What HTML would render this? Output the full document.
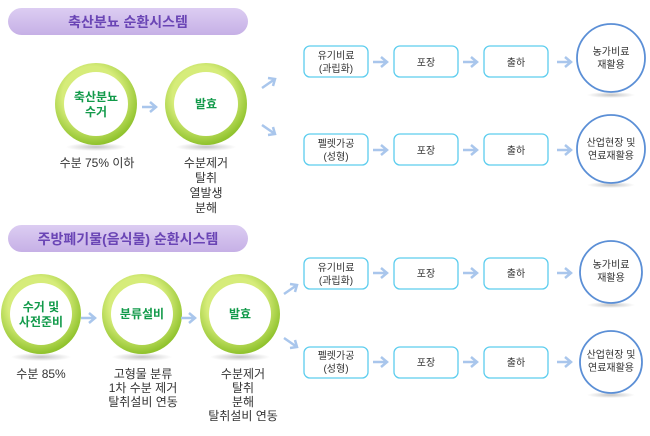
<!DOCTYPE html>
<html><head><meta charset="utf-8"><style>
html,body{margin:0;padding:0;background:#fff;}
text{font-family:"Liberation Sans","Noto Sans CJK KR",sans-serif;}
</style></head><body>
<svg width="650" height="431" viewBox="0 0 650 431" xmlns="http://www.w3.org/2000/svg">
<defs>
<linearGradient id="pill" x1="0" y1="0" x2="0" y2="1">
<stop offset="0" stop-color="#dccdf2"/><stop offset="1" stop-color="#c6b0e6"/></linearGradient>
<radialGradient id="ring" cx="0.45" cy="0.4" r="0.6">
<stop offset="0.6" stop-color="#d6ec7a"/><stop offset="1" stop-color="#8fc22c"/></radialGradient>
<radialGradient id="sh" cx="0.5" cy="0.5" r="0.5">
<stop offset="0" stop-color="#888" stop-opacity="0.5"/><stop offset="1" stop-color="#888" stop-opacity="0"/></radialGradient>
<g id="arr"><path d="M0 0 H14 M8 -5 L14 0 L8 5" fill="none" stroke="#a9c6ec" stroke-width="2.5"/></g>
</defs>
<g font-size="12" fill="#333" text-anchor="middle">
<!-- titles -->
<rect x="8" y="8" width="240" height="27" rx="13.5" fill="url(#pill)"/>
<text x="128" y="27" font-size="14" font-weight="bold" fill="#6a45b5">축산분뇨 순환시스템</text>
<rect x="8" y="225" width="240" height="27" rx="13.5" fill="url(#pill)"/>
<text x="128" y="244" font-size="14" font-weight="bold" fill="#6a45b5">주방폐기물(음식물) 순환시스템</text>

<!-- green circles -->
<g id="gc">
</g>
<ellipse cx="96" cy="147" rx="30" ry="4" fill="url(#sh)"/>
<circle cx="96" cy="104" r="41" fill="url(#ring)"/><circle cx="96" cy="104" r="32" fill="#fff"/>
<ellipse cx="206" cy="147" rx="30" ry="4" fill="url(#sh)"/>
<circle cx="206" cy="104" r="41" fill="url(#ring)"/><circle cx="206" cy="104" r="32" fill="#fff"/>
<ellipse cx="41" cy="357" rx="30" ry="4" fill="url(#sh)"/>
<circle cx="41" cy="314" r="40" fill="url(#ring)"/><circle cx="41" cy="314" r="31" fill="#fff"/>
<ellipse cx="142" cy="357" rx="30" ry="4" fill="url(#sh)"/>
<circle cx="142" cy="314" r="40" fill="url(#ring)"/><circle cx="142" cy="314" r="31" fill="#fff"/>
<ellipse cx="240" cy="357" rx="30" ry="4" fill="url(#sh)"/>
<circle cx="240" cy="314" r="40" fill="url(#ring)"/><circle cx="240" cy="314" r="31" fill="#fff"/>

<g font-weight="bold" fill="#129a4a" font-size="12">
<text x="96" y="101">축산분뇨</text><text x="96" y="116">수거</text>
<text x="206" y="108">발효</text>
<text x="41" y="311">수거 및</text><text x="41" y="326">사전준비</text>
<text x="142" y="318">분류설비</text>
<text x="240" y="318">발효</text>
</g>

<use href="#arr" x="142" y="107"/>
<use href="#arr" x="81" y="318"/>
<use href="#arr" x="181" y="318"/>

<text x="97" y="167">수분 75% 이하</text>
<text x="206" y="167">수분제거</text><text x="206" y="182">탈취</text><text x="206" y="197">열발생</text><text x="206" y="212">분해</text>
<text x="41" y="378">수분 85%</text>
<text x="143" y="378">고형물 분류</text><text x="143" y="392">1차 수분 제거</text><text x="143" y="406">탈취설비 연동</text>
<text x="243" y="378">수분제거</text><text x="243" y="392">탈취</text><text x="243" y="406">분해</text><text x="243" y="420">탈취설비 연동</text>

<!-- diagonal arrows -->
<g fill="none" stroke="#a9c6ec" stroke-width="2.5">
<path d="M262 88 L275 79 M268 78 L275 79 L273 86"/>
<path d="M262 125 L275 134 M273 127 L275 134 L268 135"/>
<path d="M284 294 L297 285 M290 284 L297 285 L295 292"/>
<path d="M284 338 L297 347 M295 340 L297 347 L290 348"/>
</g>

<!-- right rows -->
<g fill="#fff" stroke="#5ccdee" stroke-width="1.3">
<rect x="304" y="46" width="64" height="31" rx="6"/><rect x="394" y="46" width="64" height="31" rx="6"/><rect x="484" y="46" width="64" height="31" rx="6"/>
<rect x="304" y="134" width="64" height="31" rx="6"/><rect x="394" y="134" width="64" height="31" rx="6"/><rect x="484" y="134" width="64" height="31" rx="6"/>
<rect x="304" y="258" width="64" height="31" rx="6"/><rect x="394" y="258" width="64" height="31" rx="6"/><rect x="484" y="258" width="64" height="31" rx="6"/>
<rect x="304" y="347" width="64" height="31" rx="6"/><rect x="394" y="347" width="64" height="31" rx="6"/><rect x="484" y="347" width="64" height="31" rx="6"/>
</g>
<g>
<ellipse cx="611" cy="95" rx="24" ry="3" fill="url(#sh)"/>
<ellipse cx="611" cy="185" rx="24" ry="3" fill="url(#sh)"/>
<ellipse cx="611" cy="305" rx="24" ry="3" fill="url(#sh)"/>
<ellipse cx="611" cy="395" rx="24" ry="3" fill="url(#sh)"/>
</g>
<g fill="#fff" stroke="#5b8fd6" stroke-width="1.8">
<circle cx="611" cy="58" r="34"/><circle cx="611" cy="149" r="34"/>
<circle cx="611" cy="272" r="31"/><circle cx="611" cy="362" r="31"/>
</g>
<g>
<use href="#arr" x="373" y="62"/><use href="#arr" x="463" y="62"/><use href="#arr" x="557" y="62"/>
<use href="#arr" x="373" y="150"/><use href="#arr" x="463" y="150"/><use href="#arr" x="557" y="150"/>
<use href="#arr" x="373" y="273"/><use href="#arr" x="463" y="273"/><use href="#arr" x="557" y="273"/>
<use href="#arr" x="373" y="362"/><use href="#arr" x="463" y="362"/><use href="#arr" x="557" y="362"/>
</g>
<g font-size="10" fill="#333">
<text x="336" y="59">유기비료</text><text x="336" y="72">(과립화)</text>
<text x="426" y="66">포장</text><text x="516" y="66">출하</text>
<text x="611" y="55">농가비료</text><text x="611" y="68">재활용</text>
<text x="336" y="147">펠렛가공</text><text x="336" y="160">(성형)</text>
<text x="426" y="154">포장</text><text x="516" y="154">출하</text>
<text x="611" y="146">산업현장 및</text><text x="611" y="159">연료재활용</text>
<text x="336" y="271">유기비료</text><text x="336" y="284">(과립화)</text>
<text x="426" y="277">포장</text><text x="516" y="277">출하</text>
<text x="611" y="268">농가비료</text><text x="611" y="281">재활용</text>
<text x="336" y="359">펠렛가공</text><text x="336" y="372">(성형)</text>
<text x="426" y="366">포장</text><text x="516" y="366">출하</text>
<text x="611" y="358">산업현장 및</text><text x="611" y="371">연료재활용</text>
</g>
</g>
</svg>
</body></html>
